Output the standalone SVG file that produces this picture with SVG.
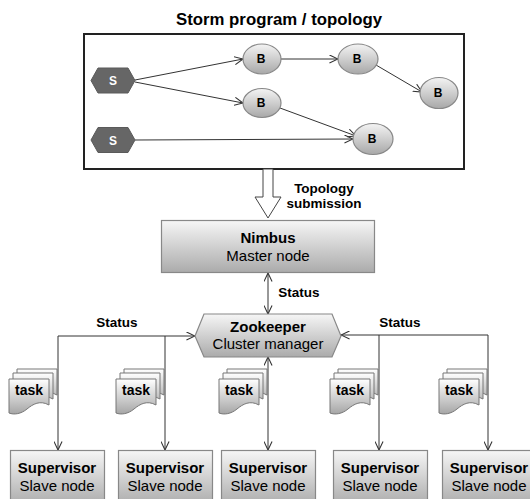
<svg xmlns="http://www.w3.org/2000/svg" width="530" height="499" viewBox="0 0 530 499">
<style>
text{font-family:"Liberation Sans",Arial,sans-serif;text-anchor:middle;fill:#000}
.b{font-weight:bold}
.lbl{font-weight:bold;font-size:13.5px}
.big{font-size:15px}
.conn{stroke:#333;stroke-width:1;fill:none}
.node{stroke:#888;stroke-width:1.2}
.doc{stroke:#777;stroke-width:1;fill:url(#gd)}
</style>
<defs>
<linearGradient id="gn" x1="0" y1="0" x2="0" y2="1">
<stop offset="0" stop-color="#f6f6f6"/><stop offset="1" stop-color="#ababab"/>
</linearGradient>
<linearGradient id="gb" x1="0" y1="0" x2="0" y2="1">
<stop offset="0" stop-color="#f4f4f4"/><stop offset="1" stop-color="#a8a8a8"/>
</linearGradient>
<linearGradient id="gd" x1="0" y1="0" x2="0" y2="1">
<stop offset="0" stop-color="#ffffff"/><stop offset="1" stop-color="#a6a6a6"/>
</linearGradient>
<marker id="ah" viewBox="0 0 10 10" refX="9.5" refY="5" markerWidth="9" markerHeight="9" markerUnits="userSpaceOnUse" orient="auto-start-reverse">
<path d="M0,0.5 L9.5,5 L0,9.5" fill="none" stroke="#333" stroke-width="1.2"/>
</marker>
<path id="doc" d="M0,0 H40 V26 C31,21 24,25 18,30 C12,35 5,36 0,34 Z"/>
<g id="tasks">
<use href="#doc" x="-41" y="369" class="doc"/>
<use href="#doc" x="-45" y="373" class="doc"/>
<use href="#doc" x="-49" y="379" class="doc"/>
<text x="-29" y="395" class="b" style="font-size:14px">task</text>
</g>
</defs>

<text x="279" y="25" class="b" style="font-size:16.8px">Storm program / topology</text>

<g id="topology-frame">
<rect x="84" y="34" width="380" height="135" fill="#fff" stroke="#222" stroke-width="2"/>
</g>

<g id="connectors">
<line class="conn" x1="135" y1="80" x2="243" y2="59" marker-end="url(#ah)"/>
<line class="conn" x1="135" y1="82" x2="243" y2="103" marker-end="url(#ah)"/>
<line class="conn" x1="135" y1="140" x2="353" y2="139" marker-end="url(#ah)"/>
<line class="conn" x1="281" y1="59" x2="338" y2="59" marker-end="url(#ah)"/>
<line class="conn" x1="376" y1="65" x2="422" y2="92" marker-end="url(#ah)"/>
<line class="conn" x1="280" y1="108" x2="356" y2="136" marker-end="url(#ah)"/>
<polygon points="263,169 273,169 273,197 281,197 268,218 255,197 263,197" fill="#fff" stroke="#444" stroke-width="1"/>
<line class="conn" x1="268" y1="273" x2="268" y2="314" marker-start="url(#ah)" marker-end="url(#ah)"/>
<polyline class="conn" points="58,450 58,336 195,336" marker-start="url(#ah)" marker-end="url(#ah)"/>
<line class="conn" x1="165" y1="336" x2="165" y2="450" marker-end="url(#ah)"/>
<line class="conn" x1="268" y1="357" x2="268" y2="450" marker-start="url(#ah)" marker-end="url(#ah)"/>
<polyline class="conn" points="488,450 488,335 341,335" marker-start="url(#ah)" marker-end="url(#ah)"/>
<line class="conn" x1="379" y1="335" x2="379" y2="450" marker-end="url(#ah)"/>
<text x="324" y="193" class="lbl">Topology</text>
<text x="324" y="208" class="lbl">submission</text>
<text x="299" y="297" class="lbl">Status</text>
<text x="117" y="327" class="lbl">Status</text>
<text x="400" y="327" class="lbl">Status</text>
</g>

<g id="spout1">
<polygon points="91,80.5 98,68 128,68 135,80.5 128,93 98,93" fill="#666" stroke="#5a5a5a"/>
<text x="113" y="85" class="b" style="font-size:12px;fill:#fff">S</text>
</g>
<g id="spout2">
<polygon points="91,140 98,127.5 128,127.5 135,140 128,152.5 98,152.5" fill="#666" stroke="#5a5a5a"/>
<text x="113" y="144.5" class="b" style="font-size:12px;fill:#fff">S</text>
</g>
<g id="bolt1">
<ellipse cx="262" cy="59" rx="19" ry="15" fill="url(#gb)" class="node"/>
<text x="261" y="63" class="b" style="font-size:12px">B</text>
</g>
<g id="bolt2">
<ellipse cx="358" cy="59" rx="20" ry="15" fill="url(#gb)" class="node"/>
<text x="357" y="63" class="b" style="font-size:12px">B</text>
</g>
<g id="bolt3">
<ellipse cx="439" cy="93" rx="19" ry="15.5" fill="url(#gb)" class="node"/>
<text x="438" y="97" class="b" style="font-size:12px">B</text>
</g>
<g id="bolt4">
<ellipse cx="262" cy="103" rx="19" ry="14.5" fill="url(#gb)" class="node"/>
<text x="261" y="107" class="b" style="font-size:12px">B</text>
</g>
<g id="bolt5">
<ellipse cx="373" cy="139" rx="20" ry="15.5" fill="url(#gb)" class="node"/>
<text x="372" y="143" class="b" style="font-size:12px">B</text>
</g>

<g id="nimbus">
<rect x="161.5" y="220.5" width="213" height="52" fill="url(#gn)" class="node"/>
<text x="268" y="243" class="b big">Nimbus</text>
<text x="268" y="261" class="big">Master node</text>
</g>

<g id="zookeeper">
<polygon points="195,336 204,314 332,314 341,336 332,357 204,357" fill="url(#gn)" class="node"/>
<text x="268" y="332" class="b big">Zookeeper</text>
<text x="268" y="349" class="big">Cluster manager</text>
</g>

<g id="task1"><use href="#tasks" x="58"/></g>
<g id="task2"><use href="#tasks" x="165"/></g>
<g id="task3"><use href="#tasks" x="268"/></g>
<g id="task4"><use href="#tasks" x="379"/></g>
<g id="task5"><use href="#tasks" x="488"/></g>

<g id="supervisor1">
<rect x="10.5" y="450.5" width="94" height="55" fill="url(#gn)" class="node"/>
<text x="57" y="473" class="b big">Supervisor</text>
<text x="57" y="491" class="big">Slave node</text>
</g>
<g id="supervisor2">
<rect x="118.5" y="450.5" width="94" height="55" fill="url(#gn)" class="node"/>
<text x="165" y="473" class="b big">Supervisor</text>
<text x="165" y="491" class="big">Slave node</text>
</g>
<g id="supervisor3">
<rect x="221.5" y="450.5" width="94" height="55" fill="url(#gn)" class="node"/>
<text x="268" y="473" class="b big">Supervisor</text>
<text x="268" y="491" class="big">Slave node</text>
</g>
<g id="supervisor4">
<rect x="333.5" y="450.5" width="94" height="55" fill="url(#gn)" class="node"/>
<text x="380" y="473" class="b big">Supervisor</text>
<text x="380" y="491" class="big">Slave node</text>
</g>
<g id="supervisor5">
<rect x="442.5" y="450.5" width="94" height="55" fill="url(#gn)" class="node"/>
<text x="489" y="473" class="b big">Supervisor</text>
<text x="489" y="491" class="big">Slave node</text>
</g>
</svg>
